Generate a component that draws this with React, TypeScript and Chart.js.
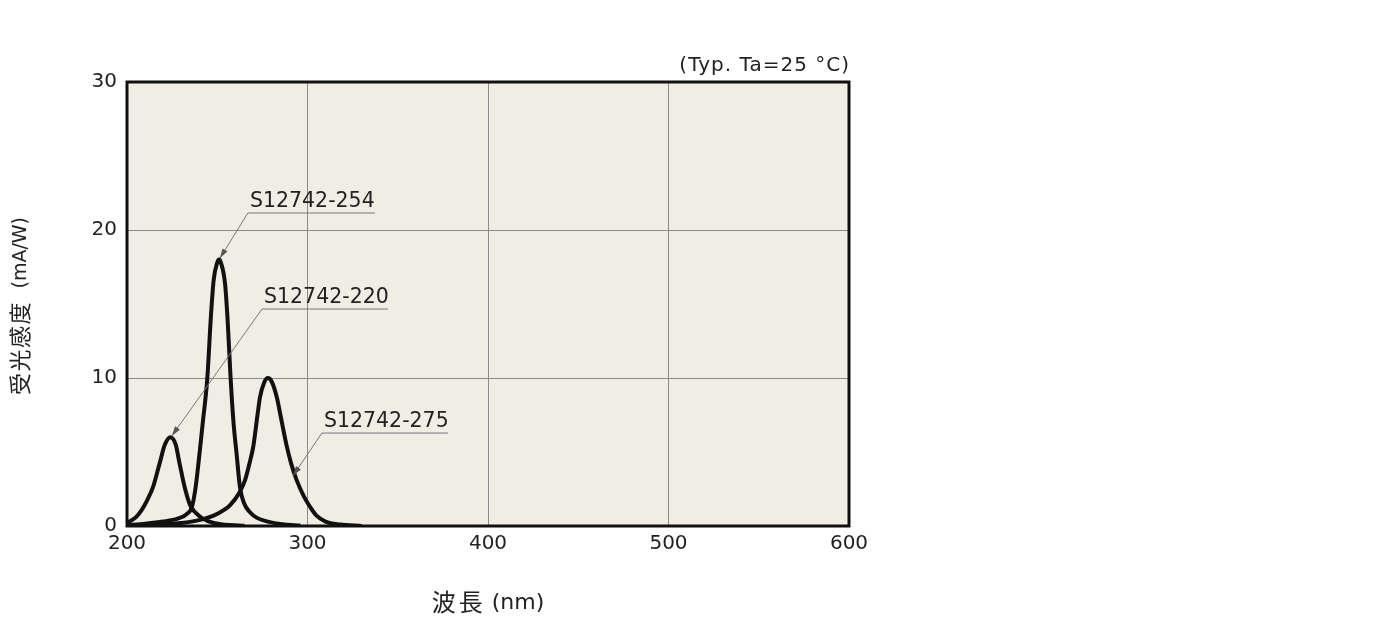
import { useEffect, useRef } from "react";
import Chart from "chart.js/auto";

// wavelength (nm) / photosensitivity (mA/W)
const wl220 = [200, 205, 208, 211, 214.5, 218, 221, 224, 227, 229, 232, 235, 238, 242, 248, 255, 265];
const ps220 = [0.2, 0.6, 1.05, 1.7, 2.66, 4.2, 5.5, 6.0, 5.5, 4.3, 2.6, 1.4, 0.9, 0.5, 0.2, 0.08, 0.02];

const wl254 = [200, 210, 220, 228, 233, 236, 238, 240, 242, 244.5, 246.4, 248, 250, 251, 252, 254.3, 255.7, 257.4, 259, 260.7, 262.6, 265, 268, 272, 278, 286, 296];
const ps254 = [0.05, 0.15, 0.3, 0.5, 0.8, 1.3, 2.6, 4.7, 7.0, 10.0, 14.0, 16.6, 17.8, 18.0, 17.8, 16.4, 14.0, 10.0, 7.0, 4.9, 2.6, 1.5, 0.95, 0.55, 0.3, 0.12, 0.03];

const wl275 = [200, 220, 230, 240, 248, 254, 257, 262, 265.4, 268, 270, 272.4, 273.7, 276, 278, 280, 283, 285, 288.5, 291, 294, 298, 301.4, 305, 310, 318, 330];
const ps275 = [0, 0.1, 0.2, 0.4, 0.7, 1.1, 1.4, 2.2, 3.1, 4.3, 5.4, 7.6, 8.7, 9.7, 10.0, 9.8, 8.7, 7.5, 5.4, 4.2, 3.1, 2.0, 1.3, 0.7, 0.3, 0.1, 0];

const xTicks = [200, 300, 400, 500, 600];
const yTicks = [0, 10, 20, 30];

// callout labels: text, underline start / end (nm), underline level, arrow tip
const calloutNames = ["S12742-254", "S12742-220", "S12742-275"];
const calloutStartX = [267, 274.8, 308];
const calloutEndX = [337.4, 344.6, 377.8];
const calloutY = [21.15, 14.66, 6.28];
const calloutTipX = [251.5, 224.9, 292];
const calloutTipY = [18.1, 6.1, 3.4];

const LATIN = '"DejaVu Sans", sans-serif';
const CJK = '"Noto Sans CJK JP", sans-serif';

const toPoints = (xs: number[], ys: number[]) => xs.map((x, i) => ({ x, y: ys[i] }));

// draws a title made of a CJK part and a latin part, centred on (cx, cy)
function drawTitle(ctx, cjk, latin, cx, cy, rot, cjkSize, cjkSpacing, latinSize, gap) {
  ctx.save();
  ctx.translate(cx, cy);
  ctx.rotate(rot);
  ctx.fillStyle = "#222";
  ctx.textBaseline = "middle";
  ctx.textAlign = "left";
  ctx.font = `${cjkSize}px ${CJK}`;
  ctx.letterSpacing = `${cjkSpacing}px`;
  const w1 = ctx.measureText(cjk).width - cjkSpacing;
  ctx.font = `${latinSize}px ${LATIN}`;
  ctx.letterSpacing = "0px";
  const w2 = ctx.measureText(latin).width;
  const start = -(w1 + gap + w2) / 2;
  ctx.font = `${cjkSize}px ${CJK}`;
  ctx.letterSpacing = `${cjkSpacing}px`;
  ctx.fillText(cjk, start, 0);
  ctx.font = `${latinSize}px ${LATIN}`;
  ctx.letterSpacing = "0px";
  ctx.fillText(latin, start + w1 + gap, 1);
  ctx.restore();
}

const framePlugin = {
  id: "frame",
  beforeDraw(chart) {
    const { ctx, chartArea: a } = chart;
    ctx.save();
    ctx.fillStyle = "#f0ede5";
    ctx.fillRect(a.left, a.top, a.right - a.left, a.bottom - a.top);
    ctx.restore();
  },
  afterDraw(chart) {
    const { ctx, chartArea: a, scales } = chart;
    ctx.save();
    ctx.strokeStyle = "#111";
    ctx.lineWidth = 3;
    ctx.strokeRect(a.left, a.top, a.right - a.left, a.bottom - a.top);

    // condition note above the frame
    ctx.fillStyle = "#222";
    ctx.font = `20px ${LATIN}`;
    ctx.letterSpacing = "1px";
    ctx.textAlign = "right";
    ctx.textBaseline = "middle";
    ctx.fillText("(Typ. Ta=25 °C)", a.right + 1, a.top - 16);
    ctx.letterSpacing = "0px";

    // callouts
    const x = scales.x;
    const y = scales.y;
    ctx.font = `20.5px ${LATIN}`;
    ctx.textAlign = "left";
    ctx.textBaseline = "bottom";
    calloutNames.forEach((name, i) => {
      const sx = x.getPixelForValue(calloutStartX[i]);
      const ex = x.getPixelForValue(calloutEndX[i]);
      const ly = y.getPixelForValue(calloutY[i]);
      const tx = x.getPixelForValue(calloutTipX[i]);
      const ty = y.getPixelForValue(calloutTipY[i]);
      ctx.fillStyle = "#222";
      ctx.fillText(name, sx + 2, ly - 1);
      ctx.strokeStyle = "#777";
      ctx.lineWidth = 1;
      ctx.beginPath();
      ctx.moveTo(ex, ly);
      ctx.lineTo(sx, ly);
      ctx.lineTo(tx, ty);
      ctx.stroke();
      // arrow head
      const ang = Math.atan2(ty - ly, tx - sx);
      const len = 10;
      ctx.fillStyle = "#555";
      ctx.beginPath();
      ctx.moveTo(tx, ty);
      ctx.lineTo(tx - len * Math.cos(ang - 0.3), ty - len * Math.sin(ang - 0.3));
      ctx.lineTo(tx - len * Math.cos(ang + 0.3), ty - len * Math.sin(ang + 0.3));
      ctx.closePath();
      ctx.fill();
    });

    // axis titles
    drawTitle(ctx, "波長", "(nm)", (a.left + a.right) / 2, 602, 0, 24, 3, 22, 9);
    drawTitle(ctx, "受光感度", "(mA/W)", 20, 306, -Math.PI / 2, 22, 1.5, 19, 14);
    ctx.restore();
  },
};

export default function App() {
  const chartRef = useRef(null);
  const chartInstance = useRef(null);

  useEffect(() => {
    const ctx = chartRef.current?.getContext("2d");
    const line = (data) => ({
      data,
      borderColor: "#111",
      borderWidth: 4,
      pointRadius: 0,
      fill: false,
      cubicInterpolationMode: "monotone",
    });
    chartInstance.current = new Chart(ctx, {
      type: "line",
      data: {
        datasets: [
          line(toPoints(wl220, ps220)),
          line(toPoints(wl254, ps254)),
          line(toPoints(wl275, ps275)),
        ],
      },
      options: {
        responsive: false,
        animation: false,
        layout: { padding: { left: 0, top: 82, right: 551, bottom: 0 } },
        plugins: { legend: { display: false }, tooltip: { enabled: false } },
        scales: {
          x: {
            type: "linear",
            min: 200,
            max: 600,
            afterBuildTicks: (s) => { s.ticks = xTicks.map((v) => ({ value: v })); },
            afterFit: (s) => { s.height = 107; },
            grid: { color: "#8a8a8a", lineWidth: 1, drawTicks: false },
            border: { display: false },
            ticks: { color: "#222", font: { family: LATIN, size: 20 }, padding: 6, maxRotation: 0 },
          },
          y: {
            min: 0,
            max: 30,
            afterBuildTicks: (s) => { s.ticks = yTicks.map((v) => ({ value: v })); },
            afterFit: (s) => { s.width = 127; },
            grid: { color: "#8a8a8a", lineWidth: 1, drawTicks: false },
            border: { display: false },
            ticks: { color: "#222", font: { family: LATIN, size: 20 }, padding: 10 },
          },
        },
      },
      plugins: [framePlugin],
    });

    return () => {
      chartInstance.current?.destroy();
    };
  }, []);

  return (
    <div style={{ position: "fixed", left: 0, top: 0, width: 1400, height: 633, background: "#fff" }}>
      <canvas ref={chartRef} width={1400} height={633} />
    </div>
  );
}
